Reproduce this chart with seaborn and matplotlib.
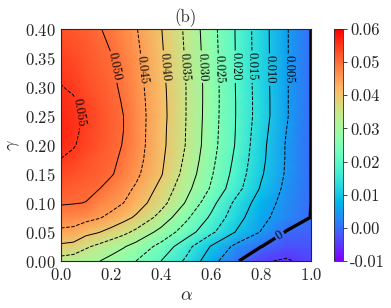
import numpy as np
import pandas as pd
import matplotlib
matplotlib.use('Agg')
import matplotlib.pyplot as plt
from matplotlib.ticker import FuncFormatter
import seaborn as sns

# Eixos da grade
alpha = [0.0, 0.05, 0.1, 0.15, 0.2, 0.25, 0.3, 0.4, 0.5, 0.6, 0.7, 0.8, 0.9, 1.0]
gamma = [0.0, 0.025, 0.05, 0.075, 0.1, 0.125, 0.15, 0.175, 0.2,
         0.225, 0.25, 0.275, 0.3, 0.35, 0.4]

# Valores, uma linha por gamma
z_g000 = [0.0329, 0.0322, 0.0312, 0.0302, 0.0286, 0.0268, 0.0250, 0.0200, 0.0142, 0.0070, 0.0006, -0.0045, -0.0055, -0.0038]
z_g025 = [0.0390, 0.0384, 0.0357, 0.0339, 0.0321, 0.0304, 0.0283, 0.0235, 0.0168, 0.0097, 0.0038, 0.0001, -0.0028, -0.0025]
z_g050 = [0.0440, 0.0437, 0.0415, 0.0403, 0.0383, 0.0363, 0.0339, 0.0285, 0.0226, 0.0161, 0.0098, 0.0048, -0.0002, -0.0012]
z_g075 = [0.0476, 0.0472, 0.0465, 0.0454, 0.0439, 0.0416, 0.0393, 0.0332, 0.0260, 0.0192, 0.0120, 0.0063, 0.0027, -0.0001]
z_g100 = [0.0504, 0.0502, 0.0499, 0.0479, 0.0466, 0.0450, 0.0426, 0.0368, 0.0296, 0.0217, 0.0138, 0.0076, 0.0033, 0.0]
z_g125 = [0.0518, 0.0514, 0.0509, 0.0502, 0.0485, 0.0465, 0.0444, 0.0386, 0.0316, 0.0245, 0.0169, 0.0095, 0.0039, 0.0]
z_g150 = [0.0533, 0.0527, 0.0518, 0.0515, 0.0504, 0.0485, 0.0460, 0.0404, 0.0332, 0.0256, 0.0181, 0.0106, 0.0045, 0.0]
z_g175 = [0.0549, 0.0541, 0.0528, 0.0516, 0.0508, 0.0493, 0.0468, 0.0409, 0.0341, 0.0264, 0.0189, 0.0112, 0.0047, 0.0]
z_g200 = [0.0563, 0.0553, 0.0538, 0.0525, 0.0512, 0.0498, 0.0472, 0.0413, 0.0348, 0.0270, 0.0196, 0.0115, 0.0047, 0.0]
z_g225 = [0.0566, 0.0558, 0.0541, 0.0528, 0.0514, 0.0500, 0.0473, 0.0414, 0.0349, 0.0272, 0.0198, 0.0120, 0.0051, 0.0]
z_g250 = [0.0565, 0.0556, 0.0543, 0.0528, 0.0514, 0.0500, 0.0473, 0.0416, 0.0350, 0.0274, 0.0199, 0.0125, 0.0055, 0.0]
z_g275 = [0.0559, 0.0553, 0.0538, 0.0524, 0.0511, 0.0497, 0.0471, 0.0415, 0.0350, 0.0275, 0.0199, 0.0125, 0.0055, 0.0]
z_g300 = [0.0551, 0.0546, 0.0530, 0.0519, 0.0508, 0.0493, 0.0468, 0.0413, 0.0350, 0.0275, 0.0198, 0.0124, 0.0055, 0.0]
z_g350 = [0.0540, 0.0533, 0.0521, 0.0512, 0.0502, 0.0483, 0.0461, 0.0407, 0.0346, 0.0272, 0.0198, 0.0123, 0.0055, 0.0]
z_g400 = [0.0525, 0.0519, 0.0513, 0.0503, 0.0491, 0.0472, 0.0453, 0.0402, 0.0342, 0.0268, 0.0197, 0.0122, 0.0055, 0.0]

niveis = [0.0, 0.005, 0.010, 0.015, 0.020, 0.025, 0.030, 0.035, 0.040, 0.045, 0.050, 0.055]
nivel_neg = [-0.005]
cbar_ticks = [-0.01, 0.0, 0.01, 0.02, 0.03, 0.04, 0.05, 0.06]

Z = np.array([z_g000, z_g025, z_g050, z_g075, z_g100, z_g125, z_g150, z_g175,
              z_g200, z_g225, z_g250, z_g275, z_g300, z_g350, z_g400])
A, G = np.meshgrid(alpha, gamma)

sns.set_theme(style='ticks')
plt.rcParams['font.family'] = 'serif'
plt.rcParams['font.serif'] = ['cmr10']
plt.rcParams['mathtext.fontset'] = 'cm'
plt.rcParams['axes.formatter.use_mathtext'] = True
plt.rcParams['axes.unicode_minus'] = False

cmap = sns.color_palette('rainbow', as_cmap=True)

fig = plt.figure(figsize=(3.91, 3.08), dpi=100)
ax = fig.add_axes([61/391, 47/308, 250/391, 232/308])
cax = fig.add_axes([334/391, 47/308, 9/391, 232/308])

mesh = ax.pcolormesh(A, G, Z, cmap=cmap, vmin=-0.01, vmax=0.06, shading='gouraud')

# linhas: 0 grossa, depois alternando tracejada / cheia
estilos = ['solid' if i % 2 == 0 else 'dashed' for i in range(len(niveis))]
larguras = [2.4 if n == 0.0 else 0.7 for n in niveis]
cs = ax.contour(A, G, Z, levels=niveis, colors='black',
                linestyles=estilos, linewidths=larguras)
ax.contour(A, G, Z, levels=nivel_neg, colors='black',
           linestyles='dashed', linewidths=0.7)

fmt = {n: ('0' if n == 0.0 else '%.3f' % n) for n in niveis}
posicoes = [(0.876, 0.043), (0.905, 0.33), (0.83, 0.33), (0.76, 0.335),
            (0.695, 0.335), (0.625, 0.33), (0.56, 0.335), (0.49, 0.335),
            (0.41, 0.335), (0.325, 0.33), (0.215, 0.335), (0.076, 0.257)]
ax.clabel(cs, fmt=fmt, fontsize=9, inline=True,
          inline_spacing=2, manual=posicoes)

ax.set_xlim(0, 1)
ax.set_ylim(0, 0.4)
ax.set_xticks([0.0, 0.2, 0.4, 0.6, 0.8, 1.0])
ax.set_yticks([0.0, 0.05, 0.1, 0.15, 0.2, 0.25, 0.3, 0.35, 0.4])
ax.tick_params(direction='in', length=3, width=0.6, labelsize=12, pad=4)
for s in ax.spines.values():
    s.set_linewidth(0.8)
ax.set_xlabel(r'$\alpha$', fontsize=13, labelpad=4)
ax.set_ylabel(r'$\gamma$', fontsize=13, labelpad=2)
ax.set_title('(b)', fontsize=12, pad=5)

cb = fig.colorbar(mesh, cax=cax, ticks=cbar_ticks)
cb.ax.yaxis.set_major_formatter(FuncFormatter(lambda v, p: '%.2f' % v))
cb.ax.tick_params(labelsize=12, length=3, width=0.6, pad=2)
cb.outline.set_linewidth(0.6)

fig.savefig('out.png', dpi=100)
